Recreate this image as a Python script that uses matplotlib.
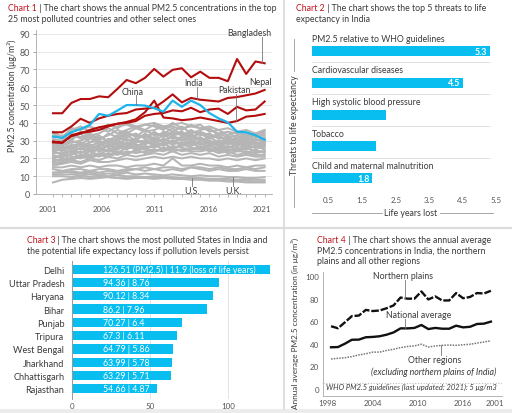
import numpy as np
import matplotlib
matplotlib.use('Agg')
import matplotlib.pyplot as plt

plt.rcParams['font.family'] = ['Lato', 'DejaVu Sans']

W, H = 512, 414
RED_TXT = '#c0111b'
TXT = '#3a3a3a'
TICK = '#555555'
CYAN = '#08bdf0'
LINE_RED = '#b30d0d'
CHINA_BLUE = '#1cb4ea'
GREY_LINE = '#b5b5b5'
FS = 6.3
FS_TICK = 5.7

# ---- chart 1: PM2.5 by country ----
years = np.arange(1998, 2022)
bangladesh = [45.4, 45.4, 51.2, 53.4, 53.4, 54.9, 54.4, 59.1, 64.1, 62.3, 65.3, 70.3,
              66.0, 69.8, 70.7, 65.6, 68.8, 65.3, 65.3, 63.4, 75.9, 67.5, 74.5, 73.5]
india = [34.7, 34.7, 38.0, 42.3, 40.0, 42.5, 44.0, 45.0, 45.5, 47.5, 48.0, 48.5,
         52.0, 56.0, 51.5, 54.0, 53.0, 52.5, 52.0, 54.0, 54.5, 55.5, 56.5, 58.5]
nepal = [29.5, 29.0, 32.5, 34.0, 36.0, 37.5, 38.5, 39.5, 40.0, 41.0, 44.0, 45.0,
         45.5, 47.0, 46.5, 48.5, 46.0, 47.5, 48.0, 45.0, 49.0, 47.0, 47.5, 52.0]
pakistan = [29.0, 28.7, 33.0, 34.5, 35.0, 36.0, 38.0, 39.5, 40.5, 42.0, 46.0, 52.5,
            43.0, 42.5, 41.5, 42.0, 43.0, 42.0, 41.0, 40.0, 41.0, 43.5, 44.0, 45.0]
china = [32.4, 31.5, 34.7, 36.6, 38.8, 45.0, 44.0, 46.9, 50.0, 50.0, 49.7, 48.2,
         46.3, 52.5, 49.0, 52.5, 50.0, 45.5, 42.5, 40.3, 35.0, 34.7, 33.0, 30.5]
usa = [11, 11, 11, 10.5, 11, 10.5, 10, 10.5, 10, 10, 9.5, 10,
       9.5, 9.5, 9, 9, 9, 8.5, 8.5, 8.5, 8, 8.5, 8, 8]
uk = [12, 12.5, 12, 11.5, 12, 11, 11.5, 11, 12, 11, 11.5, 11,
      10.5, 11, 10.5, 10, 10.5, 10, 10, 9.5, 9.5, 9, 9, 9.5]
other_countries = [
    [34, 31, 36, 38, 35, 37, 35, 38, 39, 37, 39, 38, 36, 40, 37, 38, 39, 35, 36, 33, 35, 33, 34, 35],
    [31, 30, 33, 32, 34, 31, 33, 36, 34, 37, 35, 36, 38, 35, 38, 34, 36, 37, 33, 35, 31, 34, 32, 33],
    [29, 27, 31, 34, 29, 32, 30, 33, 35, 32, 36, 33, 34, 37, 33, 36, 33, 34, 31, 32, 33, 30, 33, 31],
    [27, 28, 29, 30, 32, 28, 31, 30, 32, 34, 31, 35, 32, 34, 35, 32, 34, 31, 33, 30, 29, 32, 30, 32],
    [26, 24, 28, 27, 29, 30, 28, 32, 30, 31, 33, 30, 33, 31, 32, 34, 30, 32, 29, 31, 30, 28, 31, 29],
    [25, 26, 26, 29, 26, 27, 30, 28, 31, 29, 30, 32, 29, 33, 30, 31, 32, 29, 30, 28, 31, 29, 28, 30],
    [24, 22, 27, 25, 27, 29, 26, 29, 27, 30, 29, 28, 31, 29, 31, 28, 30, 30, 27, 29, 27, 30, 29, 27],
    [23, 23, 24, 26, 24, 25, 28, 26, 29, 27, 28, 30, 27, 30, 28, 30, 28, 27, 29, 26, 28, 26, 27, 28],
    [22, 20, 25, 23, 26, 24, 25, 27, 25, 28, 26, 27, 29, 28, 29, 27, 29, 28, 25, 27, 25, 27, 26, 26],
    [21, 21, 22, 24, 22, 26, 24, 25, 27, 25, 27, 26, 28, 26, 27, 29, 26, 27, 26, 24, 26, 25, 27, 25],
    [20, 18, 23, 21, 24, 22, 25, 23, 26, 26, 25, 28, 25, 27, 26, 25, 27, 25, 26, 25, 24, 26, 24, 24],
    [19, 19, 20, 22, 21, 23, 22, 24, 23, 24, 26, 24, 26, 25, 28, 26, 25, 26, 24, 25, 25, 23, 25, 23],
    [18, 17, 21, 20, 22, 21, 23, 22, 24, 23, 24, 25, 24, 26, 24, 25, 26, 24, 25, 23, 24, 24, 23, 24],
    [17, 18, 19, 21, 20, 22, 21, 23, 22, 25, 23, 24, 25, 24, 25, 24, 24, 25, 23, 24, 22, 23, 22, 22],
    [32, 33, 30, 35, 33, 34, 37, 34, 36, 38, 36, 39, 37, 38, 36, 39, 37, 36, 34, 35, 34, 32, 33, 34],
    [28, 25, 30, 28, 31, 33, 29, 31, 33, 30, 34, 31, 35, 33, 34, 31, 35, 33, 32, 30, 32, 31, 30, 31],
    [24, 25, 23, 26, 28, 25, 27, 30, 28, 31, 28, 31, 30, 32, 30, 33, 31, 30, 28, 30, 28, 29, 28, 29],
    [20, 22, 24, 23, 25, 27, 24, 26, 29, 26, 30, 27, 28, 30, 27, 29, 28, 29, 27, 26, 27, 28, 26, 27],
    [30, 28, 34, 31, 33, 30, 34, 32, 34, 33, 32, 34, 33, 35, 33, 35, 34, 32, 34, 32, 30, 31, 31, 29],
    [26, 27, 25, 28, 25, 28, 27, 28, 26, 29, 30, 29, 31, 29, 32, 30, 31, 28, 30, 28, 29, 27, 29, 28],
    [18, 20, 19, 18, 20, 19, 21, 20, 22, 21, 22, 23, 22, 24, 22, 23, 22, 23, 21, 22, 21, 22, 21, 21],
    [16, 17, 18, 17, 19, 18, 18, 19, 20, 19, 20, 21, 20, 21, 20, 21, 20, 20, 19, 20, 19, 20, 19, 20],
    [15, 15, 16, 15, 16, 15, 16, 16, 15, 16, 16, 17, 16, 20, 16, 16, 17, 16, 16, 15, 16, 15, 16, 16],
    [12, 12, 13, 12, 13, 12, 13, 12, 13, 14, 13, 14, 13, 14, 13, 15, 14, 13, 14, 13, 13, 14, 13, 13],
    [10, 10, 9.5, 10, 9.5, 10, 9.5, 9, 9.5, 9, 9, 9.5, 9, 9, 8.5, 9, 8.5, 8, 8, 8, 7.5, 7.5, 7, 7],
    [6.5, 8, 8.5, 9, 8.5, 9, 9.5, 9, 8.5, 9, 9, 8.5, 9, 8.5, 8.5, 8, 8, 7.5, 7.5, 7, 7, 6.5, 6.5, 6.5],
    [14, 13, 14, 14, 13, 14, 14, 13, 14, 14, 15, 14, 15, 15, 14, 15, 15, 14, 15, 14, 14, 15, 14, 15],
    [35, 32, 37, 36, 38, 36, 39, 37, 40, 38, 39, 40, 38, 39, 40, 38, 37, 38, 36, 37, 35, 36, 34, 36],
]
c1_tick_labels = ['2001', '2006', '2011', '2016', '2021']

# ---- chart 2: threats to life expectancy ----
threats = ['PM2.5 relative to WHO guidelines', 'Cardiovascular diseases',
           'High systolic blood pressure', 'Tobacco', 'Child and maternal malnutrition']
years_lost = [5.3, 4.5, 2.2, 1.9, 1.8]
shown_values = ['5.3', '4.5', '', '', '1.8']

# ---- chart 3: states ----
states = ['Delhi', 'Uttar Pradesh', 'Haryana', 'Bihar', 'Punjab', 'Tripura',
          'West Bengal', 'Jharkhand', 'Chhattisgarh', 'Rajasthan']
state_pm25 = [126.51, 94.36, 90.12, 86.2, 70.27, 67.3, 64.79, 63.99, 63.29, 54.66]
state_loss = [11.9, 8.76, 8.34, 7.96, 6.4, 6.11, 5.86, 5.78, 5.71, 4.87]

# ---- chart 4: India regions ----
years4 = np.arange(1998, 2022)
northern_plains = [55.5, 53.7, 59.0, 64.5, 65.0, 70.0, 69.0, 69.5, 71.5, 74.0, 81.0, 80.0,
                   80.0, 86.4, 79.3, 82.0, 78.4, 78.4, 85.0, 80.4, 81.5, 85.0, 84.6, 87.0]
national_avg = [36.8, 37.0, 40.0, 43.5, 43.6, 45.7, 46.0, 46.6, 48.0, 50.0, 53.6, 53.6,
                54.0, 56.6, 53.0, 54.0, 53.3, 53.3, 56.0, 54.5, 55.0, 57.5, 57.8, 59.6]
other_regions = [26.4, 27.0, 27.5, 28.5, 30.0, 31.0, 32.5, 32.5, 34.0, 35.0, 36.5, 37.5,
                 38.0, 39.5, 37.0, 38.0, 38.5, 38.8, 38.5, 39.0, 39.5, 40.5, 41.5, 42.5]
c4_tick_labels = ['1998', '2004', '2010', '2016', '2001']
who_guideline = 5


def px(l, t, r, b):
    return [l / W, 1 - b / H, (r - l) / W, (b - t) / H]


fig = plt.figure(figsize=(W / 100, H / 100), dpi=100)
bg = fig.add_axes([0, 0, 1, 1], zorder=-1)
bg.set_xlim(0, W)
bg.set_ylim(H, 0)
bg.axis('off')


def title(x, y, lines, chart):
    t = bg.text(x, y, chart, color=RED_TXT, fontsize=FS, va='center', ha='left')
    bg.annotate(' | ' + lines[0], xy=(1, 0.5), xycoords=t, va='center', ha='left',
                fontsize=FS, color=TXT)
    for k, ln in enumerate(lines[1:]):
        bg.text(x, y + 10.8 * (k + 1), ln, fontsize=FS, va='center', ha='left', color=TXT)


# separators
bg.plot([284, 284], [0, 410], color='#d4d4d4', lw=1.1)
bg.plot([0, W], [228.5, 228.5], color='#dcdcdc', lw=1.6)
bg.fill_between([0, W], 410, 414, color='#ececec', lw=0)

# ================= chart 1 =================
title(8, 8.5, ['The chart shows the annual PM2.5 concentrations in the top',
               '25 most polluted countries and other select ones'], 'Chart 1')
ax1 = fig.add_axes(px(36, 31, 272, 195))
for s in other_countries + [usa, uk]:
    ax1.plot(years, s, color=GREY_LINE, lw=1.45, zorder=2)
for s in [bangladesh, india, nepal, pakistan]:
    ax1.plot(years, s, color=LINE_RED, lw=1.5, zorder=3)
ax1.plot(years, china, color=CHINA_BLUE, lw=1.6, zorder=4)
ax1.set_xlim(1996.15, 2021.8)
ax1.set_ylim(0, 92.2)
ax1.set_yticks(np.arange(0, 100, 10))
ax1.yaxis.grid(True, color='#e4e4e4', lw=0.6)
ax1.set_axisbelow(True)
ax1.tick_params(axis='y', length=2.5, width=0.6, color='#999999', labelsize=FS_TICK + 0.8,
                labelcolor=TICK, pad=2)
ax1.set_xticks(np.linspace(1997.46, 2020.72, 5), c1_tick_labels)
ax1.set_xticks(years, minor=True)
ax1.tick_params(axis='x', which='major', length=0, pad=8, labelsize=FS_TICK, labelcolor=TICK)
ax1.tick_params(axis='x', which='minor', length=2, width=0.5, color='#999999')
for sp in ['top', 'right']:
    ax1.spines[sp].set_visible(False)
for sp in ['left', 'bottom']:
    ax1.spines[sp].set_color('#aaaaaa')
    ax1.spines[sp].set_linewidth(0.6)


def leader(ax, xs, series, x, y0):
    ax.plot([x, x], [y0, np.interp(x, xs, series)], color='#777777', lw=0.6, zorder=5)


lbl = dict(fontsize=FS, color=TXT, ha='center', va='center', zorder=6)
ax1.text(2006.6, 57.8, 'China', **lbl)
leader(ax1, years, china, 2007.0, 55.5)
ax1.text(2013.25, 62.8, 'India', **lbl)
leader(ax1, years, india, 2013.6, 60.3)
ax1.text(2017.7, 58.5, 'Pakistan', **lbl)
leader(ax1, years, pakistan, 2017.9, 56.0)
ax1.text(2019.3, 91.0, 'Bangladesh', **lbl)
leader(ax1, years, bangladesh, 2020.7, 88.0)
ax1.text(2020.6, 63.5, 'Nepal', **lbl)
ax1.text(2013.1, 2.2, 'U.S.', **lbl)
leader(ax1, years, usa, 2013.1, 4.6)
ax1.text(2017.6, 2.2, 'U.K.', **lbl)
leader(ax1, years, uk, 2017.6, 4.6)
bg.text(12, 96, 'PM2.5 concentration (μg/m³)', rotation=90, ha='center', va='center',
        fontsize=FS, color=TXT)

# ================= chart 2 =================
title(296, 8.5, ['The chart shows the top 5 threats to life',
                 'expectancy in India'], 'Chart 2')
ax2 = fig.add_axes(px(312, 36, 496.3, 195))
pos2 = np.arange(len(threats))
ax2.barh(pos2, years_lost, height=0.31, color=CYAN)
ax2.hlines(pos2[:-1] + 0.35, 0, 5.3, color='#e2e2e2', lw=0.7)
for i, name in enumerate(threats):
    ax2.text(0, i - 0.41, name, va='center', ha='left', fontsize=FS, color=TXT)
    if shown_values[i]:
        ax2.text(years_lost[i] - 0.07, i, shown_values[i], va='center', ha='right',
                 fontsize=FS, color='white', fontweight='bold')
ax2.set_xlim(0, 5.5)
ax2.set_ylim(4.5, -0.51)
ax2.set_xticks(np.arange(0.5, 6, 1.0))
ax2.set_yticks([])
ax2.tick_params(axis='x', length=0, pad=1.5, labelsize=FS_TICK, labelcolor=TICK)
for sp in ax2.spines.values():
    sp.set_visible(False)
bg.plot([294.3, 294.3], [40, 208], color='#999999', lw=0.6)
bg.text(294.5, 125, 'Threats to life expectancy', rotation=90, ha='center', va='center',
        fontsize=FS, color=TXT, bbox=dict(fc='white', ec='none', pad=1.5))
bg.plot([312, 382], [214, 214], color='#999999', lw=0.6)
bg.plot([440, 493], [214, 214], color='#999999', lw=0.6)
bg.text(411, 214, 'Life years lost', ha='center', va='center', fontsize=FS, color=TXT)

# ================= chart 3 =================
title(26.7, 240.3, ['The chart shows the most polluted States in India and',
                    'the potential life expectancy loss if pollution levels persist'], 'Chart 3')
ax3 = fig.add_axes(px(72, 262, 283, 400))
pos3 = np.arange(len(states))
ax3.barh(pos3, state_pm25, height=0.7, color=CYAN, zorder=2)
for i in pos3:
    if i == 0:
        s = f'{state_pm25[i]} (PM2.5) | {state_loss[i]} (loss of life years)'
    else:
        s = f'{state_pm25[i]} | {state_loss[i]}'
    ax3.text(19.6, i, s, va='center', ha='left', fontsize=FS, color='white', zorder=3)
ax3.set_ylim(9.77, -0.625)
ax3.set_xlim(0, 135)
ax3.set_yticks(pos3, states)
ax3.set_xticks([0, 50, 100])
ax3.xaxis.grid(True, color='#e3e3e3', lw=0.7)
ax3.set_axisbelow(True)
ax3.tick_params(axis='y', length=0, pad=5.5, labelsize=FS + 0.3, labelcolor=TXT)
ax3.tick_params(axis='x', length=0, pad=2, labelsize=FS_TICK, labelcolor=TICK)
for sp in ['top', 'right', 'bottom']:
    ax3.spines[sp].set_visible(False)
ax3.spines['left'].set_color('#999999')
ax3.spines['left'].set_linewidth(0.7)

# ================= chart 4 =================
title(317, 240.3, ['The chart shows the annual average',
                   'PM2.5 concentrations in India, the northern',
                   'plains and all other regions'], 'Chart 4')
ax4 = fig.add_axes(px(322.7, 273, 502, 397))
ax4.plot(years4, northern_plains, color='#111111', lw=1.7, ls=(0, (3.2, 0.8)))
ax4.plot(years4, national_avg, color='#111111', lw=1.7)
ax4.plot(years4, other_regions, color='#777777', lw=1.1, ls=(0, (1, 0.8)))
ax4.axhline(who_guideline, color='#bbbbbb', lw=0.8, ls=(0, (1, 1.5)))
ax4.text(1997.3, 2.3, 'WHO PM2.5 guidelines (last updated: 2021): 5 μg/m3', ha='left',
         va='center', fontsize=5.4, style='italic', color=TXT)
ax4.set_xlim(1996.8, 2022.6)
ax4.set_ylim(-6.5, 103.7)
ax4.set_yticks(np.arange(0, 101, 20))
ax4.set_xticks([1997.5, 2004.0, 2010.5, 2016.9, 2021.6], c4_tick_labels)
ax4.tick_params(axis='y', length=0, pad=2.7, labelsize=FS_TICK, labelcolor=TICK)
ax4.tick_params(axis='x', length=0, pad=2, labelsize=FS_TICK, labelcolor=TICK)
for sp in ['top', 'right']:
    ax4.spines[sp].set_visible(False)
for sp in ['left', 'bottom']:
    ax4.spines[sp].set_color('#aaaaaa')
    ax4.spines[sp].set_linewidth(0.6)
ax4.text(2008.3, 100.2, 'Northern plains', **lbl)
leader(ax4, years4, northern_plains, 2008.6, 96.6)
ax4.text(2010.6, 66.1, 'National average', **lbl)
leader(ax4, years4, national_avg, 2008.6, 62.3)
ax4.text(2012.9, 25.5, 'Other regions', **lbl)
leader(ax4, years4, other_regions, 2013.8, 29.8)
ax4.text(2012.8, 15.7, '(excluding northern plains of India)', style='italic', **lbl)
bg.text(295.3, 323.7, 'Annual average PM2.5 concentration (in μg/m³)', rotation=90,
        ha='center', va='center', fontsize=5.9, color=TXT)

fig.savefig('out.png', dpi=100)
